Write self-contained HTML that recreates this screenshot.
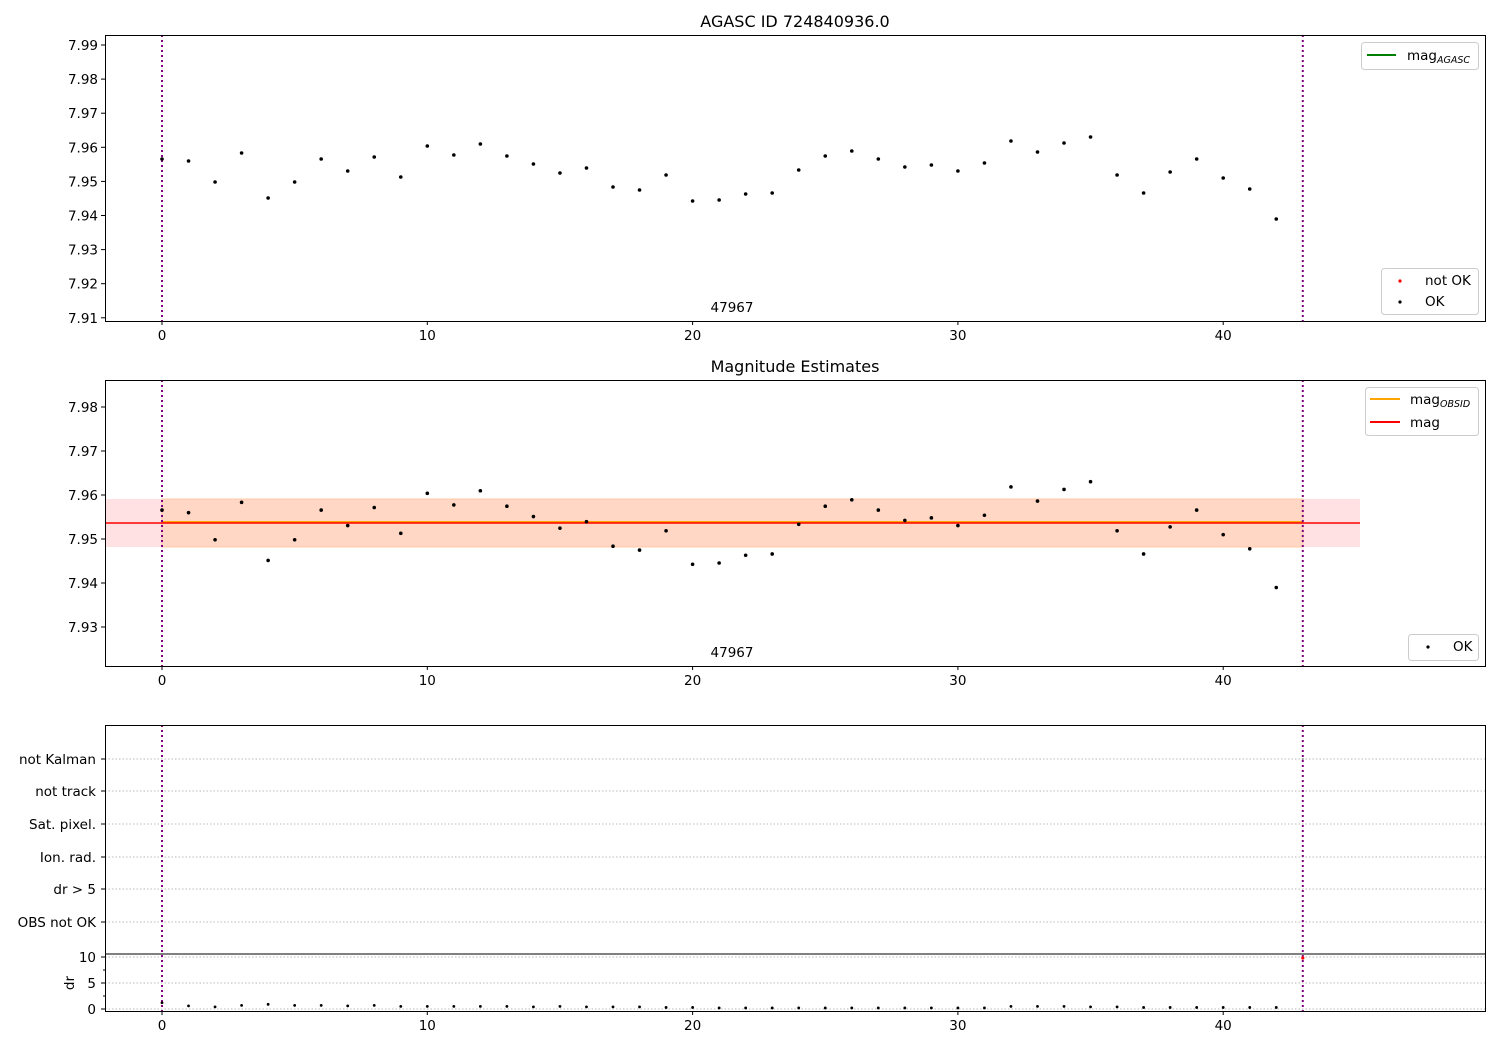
<!DOCTYPE html><html><head><meta charset="utf-8"><style>
body{margin:0;background:#fff;}
svg{font-family:"DejaVu Sans","Liberation Sans",sans-serif;}
</style></head><body>
<svg id="s" width="1500" height="1050" xmlns="http://www.w3.org/2000/svg"></svg>
<script>
const S=document.getElementById('s');let h='';
const X=v=>162+v*26.53;
const ys=[159,161,182,153,198,182,159,171,157,177,146,155,144,156,164,173,168,187,190,175,201,200,194,193,170,156,151,159,167,165,171,163,141,152,143,137,175,193,172,159,178,189,219];
const vals=ys.map(y=>7.99-(y-45)/3410);
const Y1=v=>45+(7.99-v)*3410, Y2=v=>407+(7.98-v)*4400;
function txt(x,y,t,a,sz){h+=`<text x="${x}" y="${y}" font-size="${sz||13.5}" text-anchor="${a||'middle'}">${t}</text>`;}
function xt(yb){for(let i=0;i<=40;i+=10){h+=`<line x1="${X(i)}" y1="${yb}" x2="${X(i)}" y2="${yb+4}" stroke="#000"/>`;txt(X(i),yb+19,i);}}
function vlines(t,b){[0,43].forEach(i=>h+=`<line x1="${X(i)}" y1="${t}" x2="${X(i)}" y2="${b}" stroke="purple" stroke-width="2" stroke-dasharray="2,3"/>`);}
// panel 1
vlines(35,321);
for(let k=0;k<9;k++){const v=7.91+k*0.01,y=Y1(v);h+=`<line x1="101" y1="${y}" x2="105" y2="${y}" stroke="#000"/>`;txt(98,y+5,v.toFixed(2),'end');}
vals.forEach((v,i)=>h+=`<circle cx="${X(i)}" cy="${Y1(v)}" r="1.8" fill="#000"/>`);
txt(732,312,'47967');
h+=`<rect x="105.5" y="35.5" width="1380" height="286" fill="none" stroke="#000"/>`;xt(321);
txt(795,27,'AGASC ID 724840936.0','middle',16);
h+=`<rect x="1361.5" y="42.5" width="117" height="27" rx="3" fill="#fff" stroke="#ccc"/><line x1="1367" y1="55" x2="1396" y2="55" stroke="green" stroke-width="2"/>`;
h+=`<text x="1407" y="60" font-size="13.5">mag<tspan font-size="9.5" font-style="italic" dy="3">AGASC</tspan></text>`;
h+=`<rect x="1381.5" y="268.5" width="97" height="46" rx="3" fill="#fff" stroke="#ccc"/><circle cx="1400" cy="281" r="1.6" fill="red"/><circle cx="1400" cy="302" r="1.6" fill="#000"/>`;
txt(1425,285,'not OK','start');txt(1425,306,'OK','start');
// panel 2
h+=`<rect x="105" y="499" width="1255" height="48" fill="#ffe0e3"/><rect x="162" y="499" width="1141" height="48" fill="#ffd7c4"/><rect x="162" y="499" width="1141" height="48" fill="none" stroke="#ffc8a8" stroke-width="1"/>`;
h+=`<line x1="162" y1="522" x2="1303" y2="522" stroke="orange" stroke-width="2"/><line x1="105" y1="523" x2="1360" y2="523" stroke="red" stroke-width="1.6"/>`;
vlines(380,666);
for(let k=0;k<6;k++){const v=7.93+k*0.01,y=Y2(v);h+=`<line x1="101" y1="${y}" x2="105" y2="${y}" stroke="#000"/>`;txt(98,y+5,v.toFixed(2),'end');}
vals.forEach((v,i)=>h+=`<circle cx="${X(i)}" cy="${Y2(v)}" r="1.8" fill="#000"/>`);
txt(732,657,'47967');
h+=`<rect x="105.5" y="380.5" width="1380" height="286" fill="none" stroke="#000"/>`;xt(666);
txt(795,372,'Magnitude Estimates','middle',16);
h+=`<rect x="1365.5" y="387.5" width="113" height="48" rx="3" fill="#fff" stroke="#ccc"/><line x1="1370" y1="399" x2="1400" y2="399" stroke="orange" stroke-width="2"/><line x1="1370" y1="422" x2="1400" y2="422" stroke="red" stroke-width="2"/>`;
h+=`<text x="1410" y="404" font-size="13.5">mag<tspan font-size="9.5" font-style="italic" dy="3">OBSID</tspan></text>`;txt(1410,427,'mag','start');
h+=`<rect x="1408.5" y="634.5" width="70" height="26" rx="3" fill="#fff" stroke="#ccc"/><circle cx="1428" cy="647" r="1.6" fill="#000"/>`;txt(1453,651,'OK','start');
// panel 3
const rows=[['not Kalman',759],['not track',791],['Sat. pixel.',824],['Ion. rad.',857],['dr &gt; 5',889],['OBS not OK',922]];
rows.forEach(r=>{h+=`<line x1="105" y1="${r[1]}" x2="1485" y2="${r[1]}" stroke="#bbb" stroke-dasharray="1.5,2"/><line x1="101" y1="${r[1]}" x2="105" y2="${r[1]}" stroke="#000"/>`;txt(96,r[1]+5,r[0],'end');});
[[10,957],[5,983],[0,1009]].forEach(r=>{h+=`<line x1="105" y1="${r[1]}" x2="1485" y2="${r[1]}" stroke="#bbb" stroke-dasharray="1.5,2"/><line x1="101" y1="${r[1]}" x2="105" y2="${r[1]}" stroke="#000"/>`;txt(96,r[1]+5,r[0],'end');});
[970,996].forEach(y=>h+=`<line x1="103" y1="${y}" x2="105" y2="${y}" stroke="#000"/>`);
h+=`<text x="70" y="983" font-size="13.5" text-anchor="middle" transform="rotate(-90 70 983)" dy="4">dr</text>`;
vlines(725,1011);
const dr=[1.2,0.6,0.4,0.7,0.9,0.7,0.7,0.6,0.7,0.5,0.5,0.5,0.5,0.5,0.4,0.5,0.4,0.4,0.4,0.3,0.3,0.2,0.2,0.2,0.2,0.2,0.2,0.2,0.2,0.2,0.2,0.2,0.5,0.5,0.5,0.4,0.4,0.3,0.3,0.3,0.3,0.3,0.3];
dr.forEach((d,i)=>h+=`<circle cx="${X(i)}" cy="${1009-d*5.2}" r="1.4" fill="#000"/>`);
h+=`<circle cx="${X(43)}" cy="958" r="1.6" fill="red"/><circle cx="${X(43)}" cy="759" r="1" fill="#888"/>`;
h+=`<line x1="105" y1="954" x2="1485" y2="954" stroke="#000"/>`;
h+=`<rect x="105.5" y="725.5" width="1380" height="286" fill="none" stroke="#000"/>`;xt(1011);
S.innerHTML=h;
</script></body></html>
